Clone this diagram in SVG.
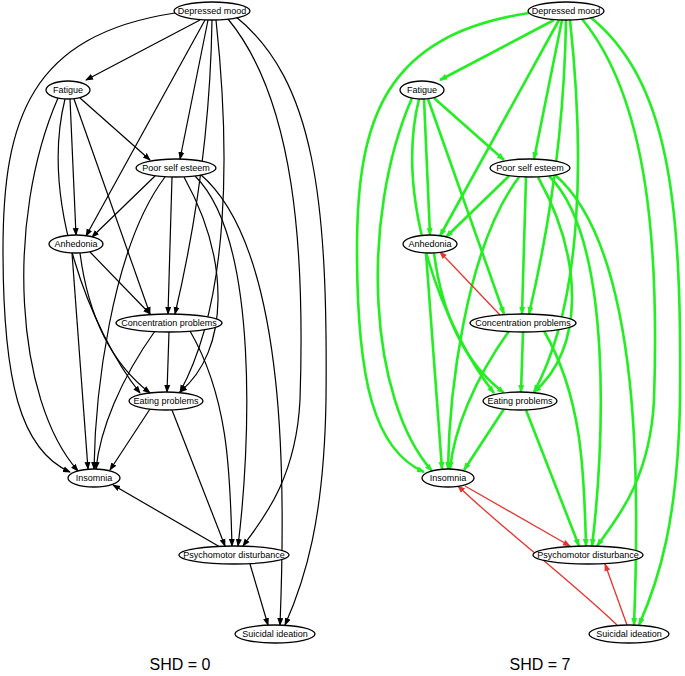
<svg xmlns="http://www.w3.org/2000/svg" width="685" height="676" viewBox="0 0 685 676">
<style>
.n ellipse{fill:#fff;stroke:#000;stroke-width:1.3}
.n text{font-family:"Liberation Sans",Arial,sans-serif;font-size:9px;text-anchor:middle;dominant-baseline:central}
.k path{fill:none;stroke:#000;stroke-width:1.2;marker-end:url(#ak)}
.g path{fill:none;stroke:#22ee22;stroke-width:2.6;marker-end:url(#ag)}
.r path{fill:none;stroke:#e8322b;stroke-width:1.3;marker-end:url(#ar)}
.shd{font-family:"Liberation Sans",Arial,sans-serif;font-size:16px;text-anchor:middle}
</style>
<defs>
<marker id="ak" markerWidth="8" markerHeight="8" refX="7" refY="4" orient="auto" markerUnits="userSpaceOnUse"><path d="M0,1 L8,4 L0,7z" fill="#000"/></marker>
<marker id="ag" markerWidth="8" markerHeight="8" refX="7" refY="4" orient="auto" markerUnits="userSpaceOnUse"><path d="M0,1 L8,4 L0,7z" fill="#22ee22"/></marker>
<marker id="ar" markerWidth="8" markerHeight="8" refX="7" refY="4" orient="auto" markerUnits="userSpaceOnUse"><path d="M0,1 L8,4 L0,7z" fill="#e8322b"/></marker>
</defs>
<g id="connectors">
<g id="left-edges" class="k">
<path d="M200,20 L86,80"/><path d="M208,20 L180,159"/><path d="M205,20 L86,236"/>
<path d="M212,20 C210,150 190,250 175,314"/><path d="M216,20 C230,150 230,300 180,392"/>
<path d="M175,13 C30,35 3,120 3,250 C3,380 20,450 70,472"/>
<path d="M228,19 C295,100 305,250 300,400 C296,480 262,520 243,546"/>
<path d="M235,16 C315,80 328,200 326,400 C324,520 305,580 285,625"/>
<path d="M80,98 L150,160"/><path d="M70,99 L76,235"/><path d="M74,99 L150,314"/>
<path d="M65,99 C40,200 90,330 140,393"/><path d="M58,98 C5,220 15,400 78,471"/>
<path d="M155,176 L92,237"/><path d="M172,177 L168,314"/><path d="M184,177 C230,260 230,350 180,392"/>
<path d="M165,177 C110,250 95,400 94,469"/><path d="M195,176 C260,240 250,450 238,546"/>
<path d="M200,174 C290,250 285,500 280,625"/>
<path d="M90,252 L150,314"/><path d="M80,253 C90,330 120,370 150,393"/><path d="M72,253 L88,469"/>
<path d="M169,332 L167,392"/><path d="M155,331 C120,380 100,430 96,469"/><path d="M190,331 C230,400 230,480 232,546"/>
<path d="M150,409 L110,470"/><path d="M172,410 L225,546"/>
<path d="M220,547 L113,485"/><path d="M250,564 L268,625"/>
</g>
<g id="right-edges" transform="translate(354,0)">
<g class="g">
<path d="M200,20 L86,80"/><path d="M208,20 L180,159"/><path d="M205,20 L86,236"/>
<path d="M212,20 C210,150 190,250 175,314"/><path d="M216,20 C230,150 230,300 180,392"/>
<path d="M175,13 C30,35 3,120 3,250 C3,380 20,450 70,472"/>
<path d="M228,19 C295,100 305,250 300,400 C296,480 262,520 243,546"/>
<path d="M235,16 C315,80 328,200 326,400 C324,520 305,580 285,625"/>
<path d="M80,98 L150,160"/><path d="M70,99 L76,235"/><path d="M74,99 L150,314"/>
<path d="M65,99 C40,200 90,330 140,393"/><path d="M58,98 C5,220 15,400 78,471"/>
<path d="M155,176 L92,237"/><path d="M172,177 L168,314"/><path d="M184,177 C230,260 230,350 180,392"/>
<path d="M165,177 C110,250 95,400 94,469"/><path d="M195,176 C260,240 250,450 238,546"/>
<path d="M200,174 C290,250 285,500 280,625"/>
<path d="M80,253 C90,330 120,370 150,393"/><path d="M72,253 L88,469"/>
<path d="M169,332 L167,392"/><path d="M155,331 C120,380 100,430 96,469"/><path d="M190,331 C230,400 230,480 232,546"/>
<path d="M150,409 L110,470"/><path d="M172,410 L225,546"/>
</g>
<g class="r">
<path d="M146,315 L86,252"/><path d="M111,486 L216,546"/>
<path d="M263,625 C210,575 150,530 104,486"/><path d="M273,625 L251,564"/>
</g>
</g>
</g>
<g id="left-nodes" class="n">
<g id="l-depressed"><ellipse cx="212" cy="11" rx="38" ry="9"/><text x="212" y="11">Depressed mood</text></g>
<g id="l-fatigue"><ellipse cx="68" cy="90" rx="22" ry="9"/><text x="68" y="90">Fatigue</text></g>
<g id="l-pse"><ellipse cx="176" cy="168" rx="40" ry="9"/><text x="176" y="168">Poor self esteem</text></g>
<g id="l-anh"><ellipse cx="76" cy="244" rx="27" ry="9"/><text x="76" y="244">Anhedonia</text></g>
<g id="l-conc"><ellipse cx="169" cy="323" rx="53" ry="9"/><text x="169" y="323">Concentration problems</text></g>
<g id="l-eat"><ellipse cx="166" cy="401" rx="37" ry="9"/><text x="166" y="401">Eating problems</text></g>
<g id="l-ins"><ellipse cx="94" cy="478" rx="26" ry="9"/><text x="94" y="478">Insomnia</text></g>
<g id="l-psy"><ellipse cx="234" cy="555" rx="55" ry="9"/><text x="234" y="555">Psychomotor disturbance</text></g>
<g id="l-sui"><ellipse cx="275" cy="634" rx="40" ry="9"/><text x="275" y="634">Suicidal ideation</text></g>
</g>
<g id="right-nodes" class="n" transform="translate(354,0)">
<g id="r-depressed"><ellipse cx="212" cy="11" rx="38" ry="9"/><text x="212" y="11">Depressed mood</text></g>
<g id="r-fatigue"><ellipse cx="68" cy="90" rx="22" ry="9"/><text x="68" y="90">Fatigue</text></g>
<g id="r-pse"><ellipse cx="176" cy="168" rx="40" ry="9"/><text x="176" y="168">Poor self esteem</text></g>
<g id="r-anh"><ellipse cx="76" cy="244" rx="27" ry="9"/><text x="76" y="244">Anhedonia</text></g>
<g id="r-conc"><ellipse cx="169" cy="323" rx="53" ry="9"/><text x="169" y="323">Concentration problems</text></g>
<g id="r-eat"><ellipse cx="166" cy="401" rx="37" ry="9"/><text x="166" y="401">Eating problems</text></g>
<g id="r-ins"><ellipse cx="94" cy="478" rx="26" ry="9"/><text x="94" y="478">Insomnia</text></g>
<g id="r-psy"><ellipse cx="234" cy="555" rx="55" ry="9"/><text x="234" y="555">Psychomotor disturbance</text></g>
<g id="r-sui"><ellipse cx="275" cy="634" rx="40" ry="9"/><text x="275" y="634">Suicidal ideation</text></g>
</g>
<text class="shd" x="180" y="670">SHD = 0</text>
<text class="shd" x="540" y="670">SHD = 7</text>
</svg>
